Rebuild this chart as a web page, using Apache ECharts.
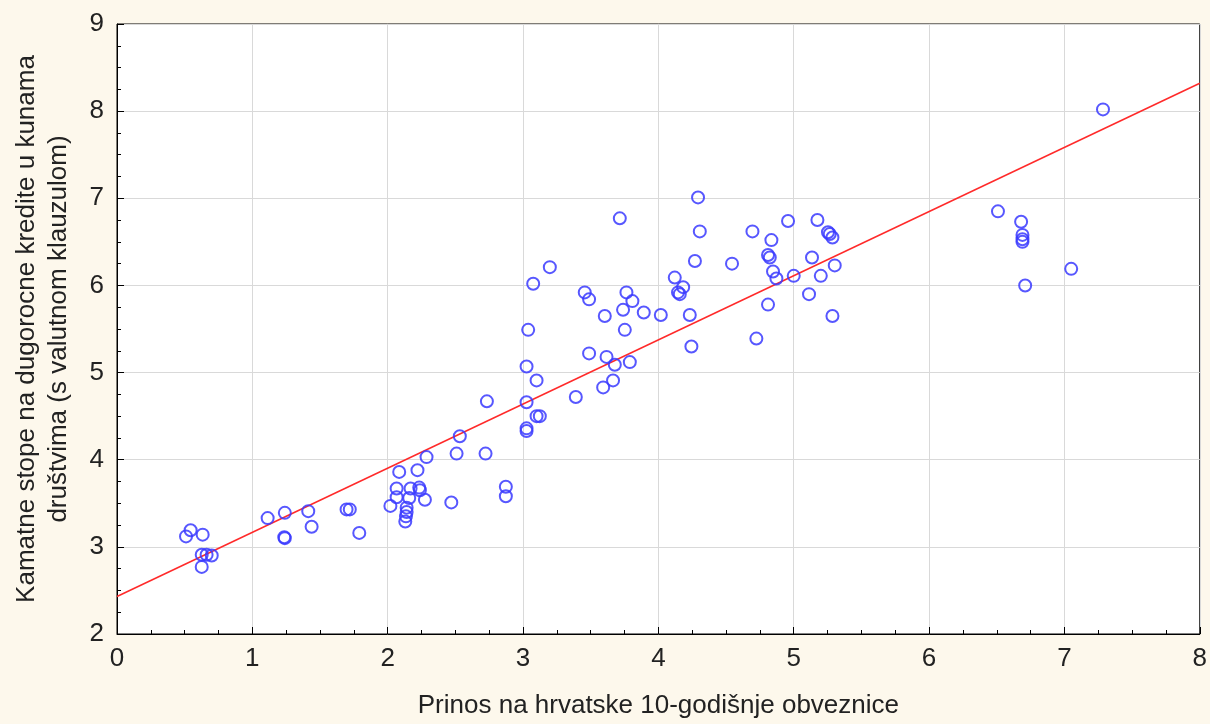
<!DOCTYPE html>
<html>
<head>
<meta charset="utf-8">
<script src="https://cdn.jsdelivr.net/npm/echarts@6/dist/echarts.min.js"></script>
<style>
html, body { margin: 0; padding: 0; background: #fdf8ec; }
#chart { width: 1210px; height: 724px; }
</style>
</head>
<body>
<div id="chart"></div>
<script>
// prinos na obveznice (x) i kamatne stope (y), očitano s grafa
var prinos = [0.51, 0.544, 0.633, 0.626, 0.662, 0.70, 0.626, 1.113, 1.24, 1.236, 1.24, 1.413, 1.438,
    1.696, 1.72, 1.79, 2.02, 2.085, 2.22, 2.066, 2.066, 2.169, 2.159, 2.233, 2.238, 2.275, 2.14, 2.14,
    2.135, 2.13, 2.287, 2.47, 2.509, 2.533, 2.723, 2.733, 2.873, 2.873, 3.026, 3.026, 3.026, 3.10,
    3.124, 3.10, 3.026, 3.038, 3.075, 3.198, 3.39, 3.456, 3.488, 3.488, 3.592, 3.604, 3.617, 3.665,
    3.678, 3.715, 3.739, 3.752, 3.764, 3.789, 3.808, 3.892, 4.018, 4.121, 4.145, 4.158, 4.183, 4.232,
    4.244, 4.27, 4.293, 4.306, 4.544, 4.695, 4.724, 4.81, 4.81, 4.823, 4.835, 4.847, 4.872, 4.958,
    5.0, 5.113, 5.135, 5.175, 5.2, 5.253, 5.266, 5.286, 5.286, 5.303, 6.509, 6.68, 6.69, 6.69, 6.69,
    6.71, 7.05, 7.285];
var kamate = [3.12, 3.19, 3.14, 2.91, 2.91, 2.90, 2.77, 3.33, 3.39, 3.11, 3.10, 3.41, 3.23,
    3.43, 3.43, 3.16, 3.47, 3.86, 3.88, 3.67, 3.57, 3.67, 3.56, 3.68, 3.65, 3.54, 3.45, 3.40,
    3.35, 3.29, 4.03, 3.51, 4.07, 4.27, 4.07, 4.67, 3.69, 3.58, 4.36, 4.33, 4.66, 4.50,
    4.50, 4.91, 5.07, 5.49, 6.02, 6.21, 4.72, 5.92, 5.84, 5.22, 4.83, 5.65, 5.18, 4.91,
    5.09, 6.77, 5.72, 5.49, 5.92, 5.12, 5.82, 5.69, 5.66, 6.09, 5.92, 5.90, 5.98, 5.66,
    5.30, 6.28, 7.01, 6.62, 6.25, 6.62, 5.39, 5.78, 6.35, 6.32, 6.52, 6.16, 6.08, 6.74,
    6.11, 5.90, 6.32, 6.75, 6.11, 6.61, 6.59, 6.55, 5.65, 6.23, 6.85, 6.73, 6.58, 6.53, 6.50,
    6.00, 6.19, 8.02];
// linija regresije, krajnje točke očitane s grafa
var linijaX = [0, 8];
var linijaY = [2.43, 8.32];

var tocke = prinos.map(function (x, i) { return [x, kamate[i]]; });
var linija = linijaX.map(function (x, i) { return [x, linijaY[i]]; });

var myChart = echarts.init(document.getElementById('chart'));
var font = 'Liberation Sans, Arial, sans-serif';
var option = {
    backgroundColor: '#fdf8ec',
    animation: false,
    grid: {
        left: 117, right: 10, top: 24, bottom: 87,
        show: true, backgroundColor: '#ffffff', borderColor: '#000', borderWidth: 1
    },
    xAxis: {
        type: 'value', min: 0, max: 8, interval: 1,
        name: 'Prinos na hrvatske 10-godišnje obveznice',
        nameLocation: 'middle', nameGap: 59,
        nameTextStyle: { fontFamily: font, fontSize: 26, color: '#222' },
        axisLine: { show: true, lineStyle: { color: '#000' } },
        axisTick: { show: true, inside: true, length: 7, lineStyle: { color: '#000' } },
        minorTick: { show: true, splitNumber: 4, length: 4, lineStyle: { color: '#000' } },
        axisLabel: { fontFamily: font, fontSize: 26, color: '#222', margin: 12 },
        splitLine: { show: true, lineStyle: { color: '#d9d9d9', width: 1 } }
    },
    yAxis: {
        type: 'value', min: 2, max: 9, interval: 1,
        name: 'Kamatne stope na dugorocne kredite u kunama\ndruštvima (s valutnom klauzulom)',
        nameLocation: 'middle', nameGap: 42,
        nameTextStyle: { fontFamily: font, fontSize: 26, color: '#222', lineHeight: 32 },
        axisLine: { show: true, lineStyle: { color: '#000' } },
        axisTick: { show: true, inside: true, length: 7, lineStyle: { color: '#000' } },
        minorTick: { show: true, splitNumber: 4, length: 4, lineStyle: { color: '#000' } },
        axisLabel: { fontFamily: font, fontSize: 26, color: '#222', margin: 13 },
        splitLine: { show: true, lineStyle: { color: '#d9d9d9', width: 1 } }
    },
    series: [
        {
            type: 'line',
            data: linija,
            symbol: 'none',
            lineStyle: { color: '#ff2a2a', width: 1.5 },
            z: 3
        },
        {
            type: 'scatter',
            data: tocke,
            symbol: 'circle',
            symbolSize: 12,
            itemStyle: { color: 'rgba(0,0,0,0)', borderColor: '#3a3aff', borderWidth: 2, opacity: 0.85 },
            z: 4
        }
    ]
};
myChart.setOption(option);
</script>
</body>
</html>
